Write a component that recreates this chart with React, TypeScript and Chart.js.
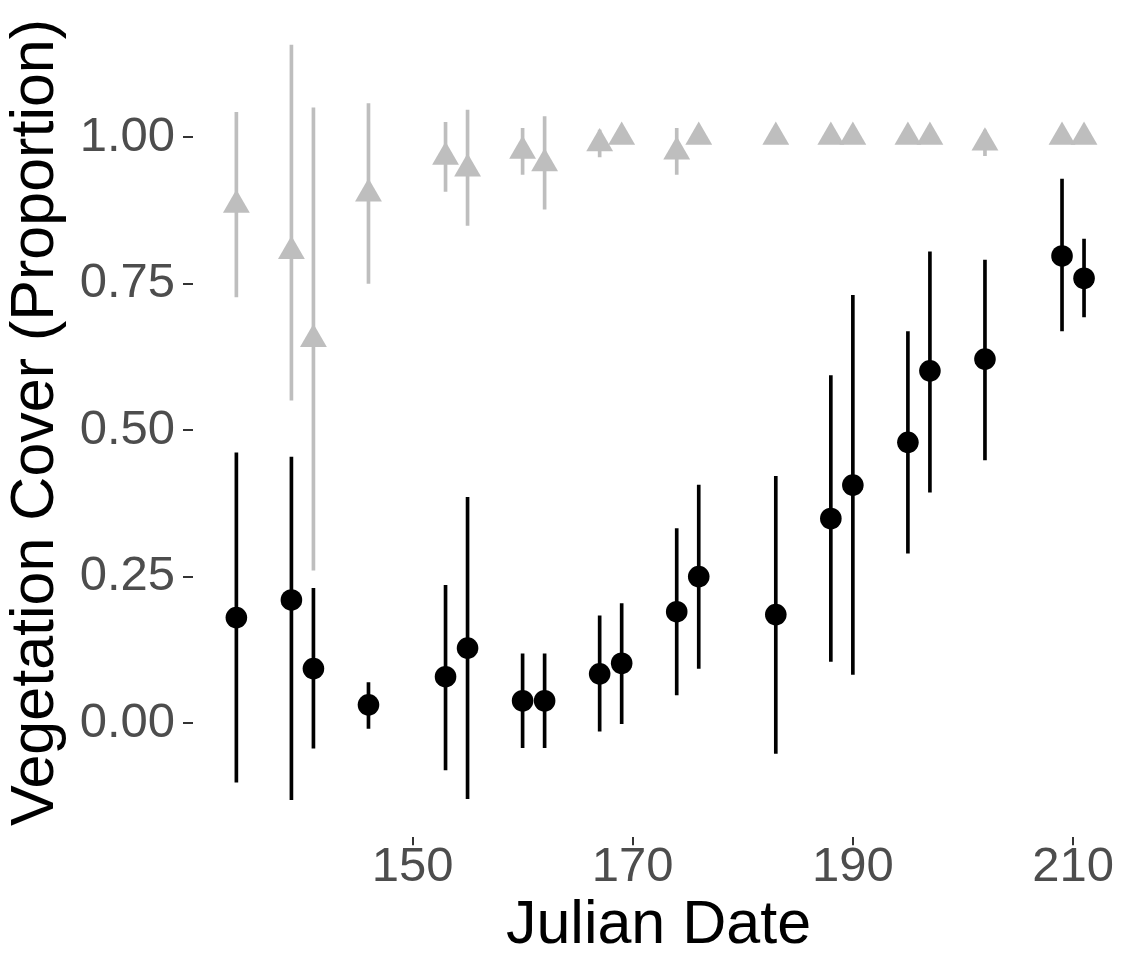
import React, { useEffect, useRef } from "react";
import { Chart, registerables } from "chart.js";

Chart.register(...registerables);

// Julian dates of the surveys
const julianDates = [134, 139, 141, 146, 153, 155, 160, 162, 167, 169, 174, 176, 183, 188, 190, 195, 197, 202, 209, 211];

// Black series (circles): mean and interval
const blackMean = [0.18, 0.21, 0.093, 0.031, 0.079, 0.128, 0.038, 0.038, 0.084, 0.102, 0.19, 0.25, 0.185, 0.349, 0.406, 0.479, 0.601, 0.621, 0.797, 0.759];
const blackLow = [-0.101, -0.131, -0.043, -0.009, -0.08, -0.129, -0.042, -0.042, -0.014, -0.001, 0.048, 0.093, -0.052, 0.105, 0.083, 0.29, 0.394, 0.449, 0.669, 0.693];
const blackHigh = [0.461, 0.454, 0.23, 0.069, 0.235, 0.385, 0.118, 0.118, 0.183, 0.204, 0.332, 0.406, 0.421, 0.593, 0.73, 0.668, 0.804, 0.79, 0.928, 0.826];

// Grey series (triangles): mean and interval
const greyMean = [0.884, 0.805, 0.655, 0.903, 0.966, 0.946, 0.976, 0.955, 0.989, 1.0, 0.975, 1.0, 1.0, 1.0, 1.0, 1.0, 1.0, 0.99, 1.0, 1.0];
const greyLow = [0.727, 0.551, 0.261, 0.75, 0.907, 0.849, 0.936, 0.877, 0.966, 1.0, 0.936, 1.0, 1.0, 1.0, 1.0, 1.0, 1.0, 0.968, 1.0, 1.0];
const greyHigh = [1.042, 1.157, 1.05, 1.057, 1.025, 1.046, 1.015, 1.035, 1.012, 1.0, 1.015, 1.0, 1.0, 1.0, 1.0, 1.0, 1.0, 1.012, 1.0, 1.0];

// Axis ticks
const xTickValues = [150, 170, 190, 210];
const xTickLabels = ["150", "170", "190", "210"];
const yTickValues = [0, 0.25, 0.5, 0.75, 1];
const yTickLabels = ["0.00", "0.25", "0.50", "0.75", "1.00"];

const FONT = "'Liberation Sans', Arial, Helvetica, sans-serif";

export default function App() {
  const ref = useRef<HTMLCanvasElement>(null);

  useEffect(() => {
    document.body.style.margin = "0";
    const canvas = ref.current;
    if (!canvas) return;

    const chart = new Chart(canvas, {
      type: "scatter",
      data: {
        datasets: [
          {
            type: "bar",
            label: "grey interval",
            data: julianDates.map((d, i) => ({ x: d, y: [greyLow[i], greyHigh[i]] })) as any,
            backgroundColor: "#bebebe",
            borderWidth: 0,
            barThickness: 3,
            grouped: false,
            order: 4,
          } as any,
          {
            type: "bar",
            label: "black interval",
            data: julianDates.map((d, i) => ({ x: d, y: [blackLow[i], blackHigh[i]] })) as any,
            backgroundColor: "#000000",
            borderWidth: 0,
            barThickness: 3,
            grouped: false,
            order: 3,
          } as any,
          {
            type: "scatter",
            label: "grey mean",
            data: julianDates.map((d, i) => ({ x: d, y: greyMean[i] })),
            pointStyle: "triangle",
            pointRadius: 15.5,
            pointHoverRadius: 15.5,
            backgroundColor: "#bebebe",
            borderWidth: 0,
            order: 2,
          },
          {
            type: "scatter",
            label: "black mean",
            data: julianDates.map((d, i) => ({ x: d, y: blackMean[i] })),
            pointStyle: "circle",
            pointRadius: 10.8,
            pointHoverRadius: 10.8,
            backgroundColor: "#000000",
            borderWidth: 0,
            order: 1,
          },
        ],
      },
      options: {
        animation: false,
        responsive: false,
        devicePixelRatio: 1,
        layout: { autoPadding: false, padding: { top: 7.5, left: 0, right: 0, bottom: 0 } },
        plugins: {
          legend: { display: false },
          tooltip: { enabled: false },
        },
        events: [],
        scales: {
          x: {
            type: "linear",
            min: 130.06,
            max: 214.63,
            offset: false,
            afterBuildTicks: (s: any) => {
              s.ticks = xTickValues.map((v) => ({ value: v }));
            },
            afterFit: (s: any) => {
              s.height = 119.7;
              s.paddingLeft = 0;
              s.paddingRight = 0;
            },
            ticks: {
              autoSkip: false,
              maxRotation: 0,
              minRotation: 0,
              padding: -2,
              color: "#4d4d4d",
              font: { family: FONT, size: 49, lineHeight: 1 },
              callback: (_v: any, i: number) => xTickLabels[i],
            },
            grid: {
              offset: false,
              drawOnChartArea: false,
              drawTicks: true,
              tickLength: 8,
              color: "#333333",
              lineWidth: 2,
            },
            border: { display: false },
            title: {
              display: true,
              text: "Julian Date",
              color: "#000000",
              font: { family: FONT, size: 61, lineHeight: 1 },
              padding: { top: 0, bottom: 0 },
            },
          },
          y: {
            type: "linear",
            min: -0.195,
            max: 1.221,
            afterBuildTicks: (s: any) => {
              s.ticks = yTickValues.map((v) => ({ value: v }));
            },
            afterFit: (s: any) => {
              s.width = 193;
              s.paddingTop = 0;
              s.paddingBottom = 0;
            },
            ticks: {
              autoSkip: false,
              padding: 8,
              color: "#4d4d4d",
              font: { family: FONT, size: 49, lineHeight: 1 },
              callback: (_v: any, i: number) => yTickLabels[i],
            },
            grid: {
              offset: false,
              drawOnChartArea: false,
              drawTicks: true,
              tickLength: 10,
              color: "#333333",
              lineWidth: 2,
            },
            border: { display: false },
            title: {
              display: true,
              text: "Vegetation Cover (Proportion)",
              color: "#000000",
              font: { family: FONT, size: 61, lineHeight: 1 },
              padding: { top: 6, bottom: 0 },
            },
          },
        },
      } as any,
    });

    return () => chart.destroy();
  }, []);

  return (
    <div style={{ width: 1124, height: 957 }}>
      <canvas ref={ref} width={1124} height={957} style={{ display: "block" }} />
    </div>
  );
}
